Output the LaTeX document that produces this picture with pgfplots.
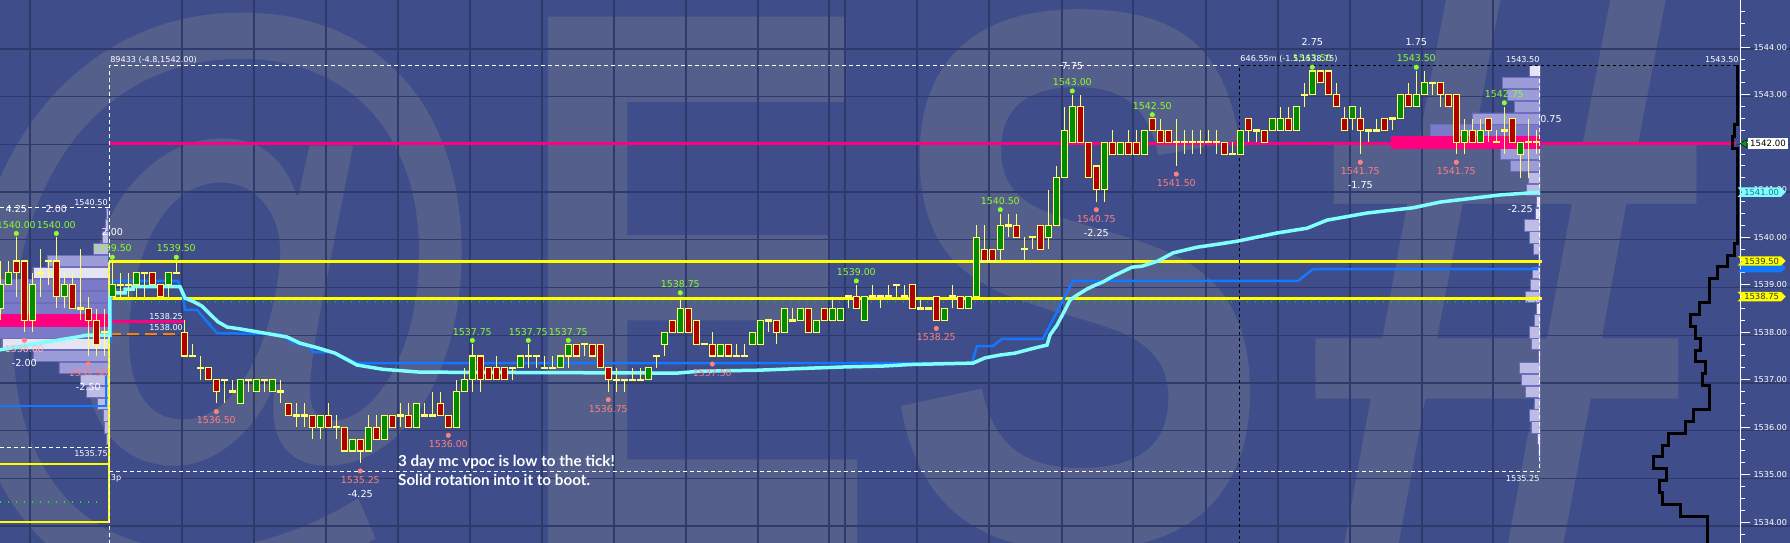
\documentclass[border=0pt]{standalone}
\usepackage{graphicx}
\usepackage{pgfplots}
\pgfplotsset{compat=1.18}
\usepackage{pgfplotstable}
\usepackage{fontspec}
\usetikzlibrary{shapes.symbols}
\newfontfamily\dvs{DejaVu Sans}
\newfontfamily\lato{Lato}
\newfontfamily\wmf{Liberation Sans}

\definecolor{bg}{RGB}{63,78,138}
\definecolor{wm}{RGB}{84,95,140}
\definecolor{gridc}{RGB}{46,58,108}
\definecolor{upc}{RGB}{0,140,0}
\definecolor{dnc}{RGB}{176,0,0}
\definecolor{wick}{RGB}{255,255,110}
\definecolor{hiy}{RGB}{255,255,0}
\definecolor{poc}{RGB}{255,0,128}
\definecolor{bline}{RGB}{20,120,255}
\definecolor{cline}{RGB}{128,255,255}
\definecolor{hilab}{RGB}{140,255,40}
\definecolor{lolab}{RGB}{255,128,128}
\definecolor{profd}{RGB}{122,122,200}
\definecolor{profm}{RGB}{156,156,216}
\definecolor{profl}{RGB}{188,188,228}
\definecolor{profw}{RGB}{228,228,242}
\definecolor{profb}{RGB}{110,110,190}
\definecolor{orng}{RGB}{255,128,0}

\pgfplotsset{
  layer/.style={scale only axis, width=1790pt, height=543pt, at={(0,0)}, anchor=south west},
  price/.style={ymin=1533.563, ymax=1544.995},
  nomk/.style={only marks, mark=none, mark size=0pt, mark options={draw=none, fill=none}},
  wickst/.style={nomk, error bars/.cd, y dir=plus, y explicit, error mark=none,
    error bar style={draw=wick, line width=1.2pt}},
  boxst/.style n args={2}{nomk, error bars/.cd, y dir=plus, y explicit, error mark=none,
    error bar style={draw=#1, line width=#2}},
  prof/.style={xbar, bar width=11.2pt, bar shift=0pt, draw=profb, line width=0.6pt, fill=#1},
}
\tikzset{
  hl/.style={text=hilab, font=\fontsize{9.4}{10}\dvs, inner sep=0pt, yshift=12.5pt},
  ll/.style={text=lolab, font=\fontsize{9.4}{10}\dvs, inner sep=0pt, yshift=-17pt},
  dh/.style={text=white, font=\fontsize{9.6}{10}\dvs, inner sep=0pt, yshift=28.5pt},
  dl/.style={text=white, font=\fontsize{9.6}{10}\dvs, inner sep=0pt, yshift=-31pt},
  sm/.style={text=white, font=\fontsize{8.1}{9}\dvs, inner sep=0pt},
}

\begin{document}

% up candles: bar n, open, high, low, close
\pgfplotstableread{
n o h l c
-14 1538.5 1539.5 1538.25 1539.0
-13 1539.0 1539.5 1539.0 1539.25
-10 1538.25 1539.25 1538.0 1539.0
-6 1538.75 1539.25 1538.5 1539.0
0 1538.75 1539.5 1538.75 1539.0
3 1539.0 1539.25 1538.75 1539.25
7 1539.0 1539.25 1538.75 1539.25
16 1536.5 1537.0 1536.5 1537.0
18 1536.75 1537.0 1536.75 1537.0
20 1536.75 1537.0 1536.75 1537.0
26 1536.0 1536.25 1535.75 1536.25
30 1535.5 1535.75 1535.5 1535.75
32 1535.5 1536.25 1535.5 1536.0
34 1535.75 1536.25 1535.75 1536.25
38 1536.0 1536.5 1536.0 1536.5
43 1536.0 1537.0 1536.0 1536.75
44 1536.75 1537.25 1536.75 1537.0
45 1537.0 1537.75 1536.75 1537.5
51 1537.25 1537.5 1537.25 1537.5
56 1537.25 1537.5 1537.25 1537.5
57 1537.5 1537.75 1537.25 1537.75
67 1537.0 1537.25 1537.0 1537.25
69 1537.75 1538.0 1537.5 1538.0
71 1538.0 1538.75 1538.0 1538.5
76 1537.5 1537.75 1537.5 1537.75
80 1537.75 1538.0 1537.75 1538.0
81 1537.75 1538.25 1537.75 1538.25
84 1538.0 1538.5 1538.0 1538.5
86 1538.25 1538.5 1538.25 1538.5
88 1538.0 1538.25 1538.0 1538.25
90 1538.25 1538.75 1538.25 1538.5
91 1538.25 1538.5 1538.25 1538.5
94 1538.25 1538.75 1538.25 1538.75
104 1538.25 1538.5 1538.25 1538.5
107 1538.5 1538.75 1538.5 1538.75
108 1538.75 1540.25 1538.75 1540.0
111 1539.75 1540.5 1539.5 1540.25
117 1540.0 1541.0 1539.75 1540.25
118 1540.25 1541.5 1540.25 1541.25
119 1541.25 1542.75 1541.25 1542.25
120 1542.0 1543.0 1542.0 1542.75
124 1541.0 1542.0 1540.75 1542.0
126 1541.75 1542.0 1541.75 1542.0
129 1541.75 1542.25 1541.75 1542.25
141 1541.75 1542.25 1541.75 1542.25
145 1542.25 1542.5 1542.25 1542.5
146 1542.25 1542.75 1542.25 1542.5
148 1542.25 1542.75 1542.25 1542.75
150 1543.0 1543.5 1543.0 1543.5
155 1542.5 1542.75 1542.25 1542.75
161 1542.5 1543.0 1542.5 1543.0
163 1542.75 1543.5 1542.75 1543.0
164 1543.0 1543.5 1543.0 1543.25
169 1542.0 1542.5 1541.75 1542.25
171 1542.0 1542.5 1542.0 1542.25
176 1541.75 1542.0 1541.25 1542.0
}\tUp

% down candles
\pgfplotstableread{
n o h l c
-12 1539.5 1540.0 1538.75 1539.25
-11 1539.5 1539.5 1538.0 1538.25
-7 1539.5 1540.0 1538.5 1538.75
-5 1539.0 1539.25 1538.5 1538.5
-3 1538.5 1538.75 1537.5 1538.25
-2 1538.25 1538.5 1537.5 1537.75
5 1539.25 1539.25 1539.0 1539.0
6 1539.0 1539.0 1538.75 1538.75
9 1538.0 1538.25 1537.5 1537.5
12 1537.25 1537.25 1537.0 1537.0
13 1537.0 1537.0 1536.5 1536.75
22 1536.5 1536.5 1536.25 1536.25
25 1536.25 1536.25 1535.75 1536.0
27 1536.25 1536.5 1536.0 1536.0
29 1536.0 1536.0 1535.5 1535.5
31 1535.75 1535.75 1535.25 1535.5
33 1536.0 1536.25 1535.75 1535.75
35 1536.25 1536.25 1536.0 1536.0
37 1536.25 1536.5 1536.0 1536.0
41 1536.5 1536.75 1536.25 1536.25
42 1536.25 1536.25 1536.0 1536.0
46 1537.5 1537.5 1536.75 1537.0
47 1537.25 1537.25 1537.0 1537.0
48 1537.25 1537.5 1537.0 1537.0
49 1537.25 1537.25 1537.0 1537.0
58 1537.75 1537.75 1537.5 1537.5
60 1537.75 1537.75 1537.5 1537.5
61 1537.75 1537.75 1537.25 1537.25
62 1537.25 1537.25 1536.75 1537.0
70 1538.25 1538.25 1538.0 1538.0
72 1538.5 1538.5 1538.0 1538.0
73 1538.25 1538.25 1537.75 1537.75
75 1537.75 1538.0 1537.5 1537.5
77 1537.75 1537.75 1537.5 1537.5
83 1538.25 1538.25 1537.75 1538.0
87 1538.5 1538.5 1538.0 1538.0
89 1538.5 1538.5 1538.25 1538.25
93 1538.75 1539.0 1538.5 1538.5
100 1539.0 1539.0 1538.5 1538.5
103 1538.75 1538.75 1538.25 1538.25
106 1538.75 1538.75 1538.5 1538.5
109 1539.75 1540.25 1539.5 1539.5
110 1539.75 1539.75 1539.5 1539.5
113 1540.25 1540.5 1540.0 1540.0
116 1540.25 1540.25 1539.75 1539.75
121 1542.75 1543.0 1542.0 1542.0
122 1542.0 1542.0 1541.25 1541.25
123 1541.5 1541.5 1540.75 1541.0
125 1542.0 1542.25 1541.75 1541.75
127 1542.0 1542.25 1541.75 1541.75
128 1542.0 1542.25 1541.75 1541.75
130 1542.5 1542.5 1542.25 1542.25
131 1542.25 1542.5 1542.0 1542.0
132 1542.25 1542.25 1542.0 1542.0
139 1542.0 1542.0 1541.75 1541.75
142 1542.5 1542.5 1542.0 1542.25
144 1542.25 1542.25 1542.0 1542.0
147 1542.5 1542.75 1542.25 1542.25
151 1543.5 1543.5 1543.25 1543.25
152 1543.5 1543.5 1543.0 1543.0
153 1543.0 1543.25 1542.75 1542.75
154 1542.5 1542.75 1542.25 1542.25
156 1542.5 1542.75 1541.75 1542.25
159 1542.5 1542.5 1542.25 1542.25
162 1543.0 1543.25 1542.75 1542.75
166 1543.25 1543.25 1542.75 1543.0
167 1543.0 1543.0 1542.75 1542.75
168 1543.0 1543.0 1541.75 1542.0
170 1542.25 1542.5 1542.0 1542.0
172 1542.5 1542.5 1542.0 1542.25
175 1542.5 1542.5 1542.0 1542.0
}\tDn

% doji bars: n, open=close, high, low
\pgfplotstableread{
n o h l
-9 1539.25 1539.75 1538.75
-8 1539.5 1539.5 1539.0
-4 1538.5 1539.75 1538.25
-1 1538.0 1538.5 1537.5
1 1539.0 1539.25 1538.75
2 1539.0 1539.25 1538.75
4 1539.25 1539.25 1538.75
8 1539.25 1539.5 1539.25
10 1537.5 1537.75 1537.5
11 1537.25 1537.5 1537.0
14 1537.0 1537.0 1536.5
15 1536.75 1537.0 1536.75
17 1537.0 1537.0 1536.75
19 1537.0 1537.0 1536.75
21 1536.75 1537.0 1536.5
23 1536.25 1536.5 1536.0
24 1536.25 1536.5 1536.0
28 1536.0 1536.25 1535.75
36 1536.25 1536.5 1536.0
39 1536.25 1536.5 1536.25
40 1536.25 1536.75 1536.25
50 1537.25 1537.25 1537.0
52 1537.5 1537.75 1537.25
53 1537.5 1537.5 1537.25
54 1537.25 1537.5 1537.25
55 1537.25 1537.5 1537.25
59 1537.75 1537.75 1537.5
63 1537.0 1537.25 1536.75
64 1537.0 1537.0 1536.75
65 1537.0 1537.25 1537.0
66 1537.0 1537.25 1537.0
68 1537.5 1537.5 1537.25
74 1537.75 1537.75 1537.75
78 1537.5 1537.75 1537.5
79 1537.5 1537.75 1537.5
82 1538.25 1538.25 1538.0
85 1538.25 1538.5 1538.25
92 1538.75 1538.75 1538.5
95 1538.75 1539.0 1538.75
96 1538.75 1538.75 1538.5
97 1538.75 1539.0 1538.75
98 1539.0 1539.0 1538.75
99 1538.75 1539.0 1538.75
101 1538.5 1538.75 1538.5
102 1538.5 1538.5 1538.5
105 1538.75 1539.0 1538.5
112 1540.25 1540.5 1540.0
114 1539.75 1540.0 1539.5
115 1540.0 1540.0 1539.75
133 1542.0 1542.5 1541.5
134 1542.0 1542.25 1541.75
135 1542.0 1542.25 1541.75
136 1542.0 1542.25 1541.75
137 1542.0 1542.25 1542.0
138 1542.0 1542.25 1541.75
140 1541.75 1542.0 1541.75
143 1542.25 1542.25 1542.0
149 1543.0 1543.25 1542.75
157 1542.25 1542.25 1542.0
158 1542.25 1542.5 1542.25
160 1542.5 1542.5 1542.25
165 1543.25 1543.25 1543.0
173 1542.0 1542.25 1542.0
174 1542.25 1542.75 1541.75
177 1542.0 1542.5 1541.25
178 1542.0 1542.25 1541.75
}\tDj

% volume profiles: price row, bar length (px)
\pgfplotstableread{
p w
1538.25 160
}\lpPoc
\pgfplotstableread{
p w
1539.25 75
1537.75 106
}\lpWhite
\pgfplotstableread{
p w
1539.0 130
1538.75 130
1538.5 140
1538.0 125
}\lpDark
\pgfplotstableread{
p w
1539.5 61
1537.5 75
1537.25 49
}\lpMid
\pgfplotstableread{
p w
1540.5 2
1540.25 3
1540.0 6
1539.75 15
1537.0 28
1536.75 22
1536.5 11
1536.25 5
1536.0 4
1535.75 2
}\lpLight

\pgfplotstableread{
p w
1542.0 149
}\rpPoc
\pgfplotstableread{
p w
1542.25 110
}\rpDark
\pgfplotstableread{
p w
1542.5 68
1541.75 40
1543.25 38
1543.0 33
1541.5 30
1542.75 26
}\rpMid
\pgfplotstableread{
p w
1537.25 21
1537.0 19
1540.25 16
1538.75 15
1536.75 15
1541.0 14
1541.25 12
1540.0 11
1538.0 11
1536.25 11
1539.0 10
1537.75 9
1536.0 9
1539.25 8
1539.75 7
1538.25 6
1536.5 6
}\rpLight
\pgfplotstableread{
p w
1543.5 11
1540.75 4
1540.5 5
1538.5 4
1539.5 2
1537.5 2
1535.75 3
1535.5 2
1535.25 1
}\rpWhite

\begin{tikzpicture}
\fill[bg] (0,0) rectangle (1790pt,543pt);
% watermark
\begin{scope}[every node/.style={inner sep=0pt, text=wm}]
\node at (216pt,238pt) {\resizebox*{560pt}{580pt}{\wmf\bfseries @}};
\node at (695pt,262pt) {\resizebox*{367pt}{528pt}{\wmf\bfseries E}};
\node at (1079pt,263pt) {\resizebox*{388pt}{540pt}{\wmf\bfseries S}};
\node at (1506pt,272pt) {\resizebox*{403pt}{560pt}{\wmf\bfseries \#}};
\end{scope}

% grid
\begin{axis}[layer, xmin=0, xmax=1790, ymin=0, ymax=543, y dir=reverse,
  xtick={30,182,254,326,398,470,542,614,686,758,829,845,917,989,1062,1133,1206,1278,1350,1422,1493},
  ytick={49,96.7,144.4,192.1,239.8,287.5,335.2,382.9,430.6,478.3,526},
  grid=major, major grid style={draw=gridc, line width=1.3pt},
  xticklabels={}, yticklabels={}, major tick length=0pt, axis line style={draw=none}]
\addplot[draw=none] coordinates {(0,0)};
\end{axis}

% previous session profile
\begin{axis}[layer, price, width=108pt, xmin=0, xmax=108, x dir=reverse, hide axis]
\addplot[prof=profd] table[x=w, y=p] {\lpDark};
\addplot[prof=profm] table[x=w, y=p] {\lpMid};
\addplot[prof=profl] table[x=w, y=p] {\lpLight};
\addplot[prof=profw] table[x=w, y=p] {\lpWhite};
\addplot[prof=poc, draw=poc] table[x=w, y=p] {\lpPoc};
\end{axis}

% current session profile
\begin{axis}[layer, price, width=1540pt, xmin=0, xmax=1540, x dir=reverse, hide axis]
\addplot[prof=profd] table[x=w, y=p] {\rpDark};
\addplot[prof=profm] table[x=w, y=p] {\rpMid};
\addplot[prof=profl] table[x=w, y=p] {\rpLight};
\addplot[prof=profw] table[x=w, y=p] {\rpWhite};
\addplot[prof=poc, draw=poc] table[x=w, y=p] {\rpPoc};
\end{axis}

% price pane
\begin{axis}[layer, price, xmin=-14.0375, xmax=209.7125, hide axis]
% levels
\addplot[hiy, line width=3pt] coordinates {(-0.41,1539.48) (178.7,1539.48)};
\addplot[hiy, line width=3pt] coordinates {(-0.41,1538.71) (178.7,1538.71)};
\addplot[green!75!black, line width=1.5pt, dash pattern=on 1.5pt off 6.5pt] coordinates {(-0.2,1538.64) (178.5,1538.64)};
\addplot[poc, line width=3pt] coordinates {(-0.41,1541.97) (203.0,1541.97)};
\addplot[poc, line width=2.5pt] coordinates {(-0.41,1538.23) (9.1,1538.23)};
\addplot[orng, line width=1.5pt, dash pattern=on 12pt off 6pt] coordinates {(-0.41,1537.96) (9.1,1537.96)};
\addplot[hiy, line width=2pt] coordinates {(-14.04,1535.23) (-0.41,1535.23)};
\addplot[hiy, line width=2pt] coordinates {(-14.04,1534.0) (-0.41,1534.0) (-0.41,1539.48)};
\addplot[green, line width=1.5pt, dash pattern=on 1.5pt off 6.5pt] coordinates {(-14.04,1534.43) (-1.6,1534.43)};
% session frame
\addplot[white, line width=1pt, dash pattern=on 4pt off 3pt] coordinates {(-0.41,1533.4) (-0.41,1543.61) (140.96,1543.61)};
\addplot[white, line width=1pt, dash pattern=on 4pt off 3pt] coordinates {(-0.41,1535.06) (178.46,1535.06) (178.46,1543.61)};
\addplot[black, line width=1pt, dash pattern=on 3pt off 3pt] coordinates {(140.96,1533.4) (140.96,1543.61) (203.2,1543.61)};
\addplot[white, line width=1pt, dash pattern=on 4pt off 3pt] coordinates {(-14.04,1540.62) (-0.41,1540.62)};
\addplot[white, line width=1pt, dash pattern=on 4pt off 3pt] coordinates {(-14.04,1535.58) (-0.41,1535.58)};
% blue line
\addplot[bline, line width=2.5pt] coordinates {(-14.04,1536.45) (-0.79,1536.45) (-0.79,1537.1)};
\addplot[bline, line width=2.5pt] coordinates {(-0.16,1537.77) (-0.16,1538.68) (0.09,1539.08) (8.21,1539.08)
  (8.84,1538.74) (9.09,1538.47) (10.59,1538.47) (13.09,1537.98) (20.96,1537.96) (22.46,1537.79)
  (24.71,1537.69) (25.09,1537.58) (27.59,1537.58) (30.59,1537.35) (107.46,1537.35) (108.09,1537.71)
  (110.09,1537.71) (111.21,1537.86) (116.34,1537.86) (120.09,1539.08) (148.21,1539.08) (150.09,1539.33)
  (178.21,1539.33)};
% cyan line
\addplot[cline, line width=3.5pt] coordinates {(-14.04,1537.63) (-4.41,1537.9) (-3.16,1537.94) (-0.29,1537.94)
  (-0.29,1538.83) (1.59,1538.83) (1.59,1538.91) (2.59,1538.91) (2.59,1538.96) (8.46,1538.96) (9.09,1538.72)
  (10.21,1538.64) (11.21,1538.55) (12.21,1538.38) (13.21,1538.22) (14.34,1538.11) (15.96,1538.07)
  (19.09,1537.98) (21.84,1537.9) (23.46,1537.77) (25.71,1537.67) (27.84,1537.56) (30.59,1537.31)
  (33.84,1537.22) (38.46,1537.16) (70.59,1537.14) (73.46,1537.18) (80.59,1537.2) (86.59,1537.24)
  (91.59,1537.27) (96.59,1537.29) (99.71,1537.32) (104.71,1537.34) (107.59,1537.35) (109.09,1537.46)
  (110.96,1537.52) (112.84,1537.56) (115.34,1537.67) (116.84,1537.73) (117.21,1537.94) (118.09,1538.15)
  (119.09,1538.47) (119.71,1538.68) (120.59,1538.78) (121.84,1538.91) (122.84,1538.99) (123.84,1539.06)
  (125.09,1539.18) (127.46,1539.37) (128.71,1539.39) (130.71,1539.5) (132.59,1539.67) (135.59,1539.79)
  (138.46,1539.86) (140.71,1539.92) (145.59,1540.09) (149.34,1540.19) (151.84,1540.36) (156.84,1540.51)
  (162.59,1540.62) (165.96,1540.74) (173.46,1540.89) (178.46,1540.95)};
% candles: wicks, then bodies
\addplot[wickst] table[x=n, y=l, y error plus expr=\thisrow{h}-\thisrow{l}] {\tUp};
\addplot[wickst] table[x=n, y=l, y error plus expr=\thisrow{h}-\thisrow{l}] {\tDn};
\addplot[wickst] table[x=n, y=l, y error plus expr=\thisrow{h}-\thisrow{l}] {\tDj};
\addplot[boxst={wick}{7pt}] table[x=n, y expr=\thisrow{o}-0.012, y error plus expr=\thisrow{c}-\thisrow{o}+0.024] {\tUp};
\addplot[boxst={upc}{5pt}] table[x=n, y expr=\thisrow{o}+0.012, y error plus expr=\thisrow{c}-\thisrow{o}-0.024] {\tUp};
\addplot[boxst={wick}{7pt}] table[x=n, y expr=\thisrow{c}-0.012, y error plus expr=\thisrow{o}-\thisrow{c}+0.024] {\tDn};
\addplot[boxst={dnc}{5pt}] table[x=n, y expr=\thisrow{c}+0.012, y error plus expr=\thisrow{o}-\thisrow{c}-0.024] {\tDn};
\addplot[boxst={wick}{7pt}] table[x=n, y expr=\thisrow{o}-0.025, y error plus expr=0.05] {\tDj};
% swing high and low dots
\addplot[only marks, mark=*, mark size=2.3pt, color=hilab] coordinates {(-12,1540.08) (-7,1540.08) (0,1539.58)
  (8,1539.58) (45,1537.83) (52,1537.83) (57,1537.83) (71,1538.83) (93,1539.08) (111,1540.58) (120,1543.08)
  (130,1542.58) (150,1543.58) (163,1543.58) (174,1542.83)};
\addplot[only marks, mark=*, mark size=2.3pt, color=lolab] coordinates {(-11,1537.83) (-3,1537.33) (13,1536.33)
  (31,1535.08) (42,1535.83) (62,1536.58) (75,1537.33) (103,1538.08) (123,1540.58) (133,1541.33)
  (156,1541.58) (168,1541.58)};
% swing labels
\node[hl] at (axis cs:-12,1540.0) {1540.00};
\node[hl] at (axis cs:-7,1540.0) {1540.00};
\node[hl] at (axis cs:0,1539.5) {1539.50};
\node[hl] at (axis cs:8,1539.5) {1539.50};
\node[hl] at (axis cs:45,1537.75) {1537.75};
\node[hl] at (axis cs:52,1537.75) {1537.75};
\node[hl] at (axis cs:57,1537.75) {1537.75};
\node[hl] at (axis cs:71,1538.75) {1538.75};
\node[hl] at (axis cs:93,1539.0) {1539.00};
\node[hl] at (axis cs:111,1540.5) {1540.50};
\node[hl] at (axis cs:120,1543.0) {1543.00};
\node[hl] at (axis cs:130,1542.5) {1542.50};
\node[hl] at (axis cs:150,1543.5) {1543.50};
\node[hl] at (axis cs:163,1543.5) {1543.50};
\node[hl] at (axis cs:174,1542.75) {1542.75};
\node[dh] at (axis cs:-12,1540.0) {4.25};
\node[dh] at (axis cs:-7,1540.0) {2.00};
\node[dh] at (axis cs:0,1539.5) {2.00};
\node[dh] at (axis cs:120,1543.0) {7.75};
\node[dh] at (axis cs:150,1543.5) {2.75};
\node[dh] at (axis cs:163,1543.5) {1.75};
\node[ll, text=lolab!60!white] at (axis cs:-11,1538.0) {1538.00};
\node[ll] at (axis cs:-3,1537.5) {1537.50};
\node[ll] at (axis cs:13,1536.5) {1536.50};
\node[ll] at (axis cs:31,1535.25) {1535.25};
\node[ll] at (axis cs:42,1536.0) {1536.00};
\node[ll] at (axis cs:62,1536.75) {1536.75};
\node[ll] at (axis cs:75,1537.5) {1537.50};
\node[ll] at (axis cs:103,1538.25) {1538.25};
\node[ll] at (axis cs:123,1540.75) {1540.75};
\node[ll] at (axis cs:133,1541.5) {1541.50};
\node[ll] at (axis cs:156,1541.75) {1541.75};
\node[ll] at (axis cs:168,1541.75) {1541.75};
\node[dl] at (axis cs:-11,1538.0) {-2.00};
\node[dl] at (axis cs:-3,1537.5) {-2.50};
\node[dl] at (axis cs:31,1535.25) {-4.25};
\node[dl] at (axis cs:123,1540.75) {-2.25};
\node[dl] at (axis cs:156,1541.75) {-1.75};
\node[dl] at (axis cs:176,1541.25) {-2.25};
\node[text=white, font=\fontsize{9.6}{10}\dvs, inner sep=0pt] at (axis cs:179.84,1542.49) {0.75};
% level and range labels
\node[sm, anchor=west] at (axis cs:-0.27,1543.73) {89433 (-4.8,1542.00)};
\node[sm, anchor=west] at (axis cs:141,1543.75) {646.55m (-1.5,1538.75)};
\node[sm] at (axis cs:176.3,1543.75) {1543.50};
\node[sm] at (axis cs:201.2,1543.74) {1543.50};
\node[sm] at (axis cs:176.3,1534.93) {1535.25};
\node[sm, anchor=west] at (axis cs:-0.2,1534.93) {3p};
\node[sm, anchor=east] at (axis cs:8.84,1538.33) {1538.25};
\node[sm, anchor=east] at (axis cs:8.84,1538.09) {1538.00};
\node[sm, anchor=east] at (axis cs:-0.54,1540.72) {1540.50};
\node[sm, anchor=east] at (axis cs:-0.54,1535.44) {1535.75};
% annotation
\node[anchor=base west, text=white, font=\fontsize{15.2}{16}\lato\bfseries, inner sep=0pt] at (axis cs:35.71,1535.18) {3 day mc vpoc is low to the tick!};
\node[anchor=base west, text=white, font=\fontsize{15.2}{16}\lato\bfseries, inner sep=0pt] at (axis cs:35.71,1534.78) {Solid rotation into it to boot.};
\end{axis}

% price scale and TPO outline
\begin{axis}[scale only axis, width=1740pt, height=543pt, at={(0,0)}, anchor=south west, price,
  xmin=0, xmax=1740, x dir=reverse, clip=false,
  axis x line=none, axis y line=right, y axis line style={white, line width=1pt, -},
  ytick distance=1, minor y tick num=3, tick align=outside,
  major tick length=10pt, minor tick length=5pt, tick style={white, line width=1pt},
  yticklabel style={font=\fontsize{8.1}{9}\dvs, text=white, /pgf/number format/.cd, fixed, fixed zerofill,
    precision=2, 1000 sep={}, assume math mode=true}]
\addplot[black, line width=3pt] coordinates {(3,1543.625) (3,1542.375) (6,1542.375) (6,1542.125) (8,1542.125)
  (8,1541.875) (3,1541.875) (3,1539.875) (6,1539.875) (6,1539.625) (13,1539.625) (13,1539.375) (23,1539.375)
  (23,1539.125) (31,1539.125) (31,1538.625) (41,1538.625) (41,1538.375) (50,1538.375) (50,1538.125)
  (45,1538.125) (45,1537.875) (40,1537.875) (40,1537.625) (45,1537.625) (45,1537.375) (35,1537.375)
  (35,1537.125) (38,1537.125) (38,1536.875) (31,1536.875) (31,1536.375) (47,1536.375) (47,1536.125)
  (55,1536.125) (55,1535.875) (72,1535.875) (72,1535.625) (78,1535.625) (78,1535.375) (87,1535.375)
  (87,1535.125) (74,1535.125) (74,1534.875) (81,1534.875) (81,1534.625) (78,1534.625) (78,1534.375)
  (60,1534.375) (60,1534.125) (33,1534.125) (33,1533.4)};
\node[signal, signal from=west, fill=bline, text=bline, font=\fontsize{8.4}{9}\dvs, inner xsep=2pt, inner ysep=1.5pt, anchor=west] at (axis cs:-2,1539.36) {1539.50};
\node[signal, signal from=west, fill=hiy, text=black!80, font=\fontsize{8.4}{9}\dvs, inner xsep=2pt, inner ysep=1.5pt, anchor=west] at (axis cs:-2,1539.5) {1539.50};
\node[signal, signal from=west, fill=hiy, text=black!80, font=\fontsize{8.4}{9}\dvs, inner xsep=2pt, inner ysep=1.5pt, anchor=west] at (axis cs:-2,1538.75) {1538.75};
\node[signal, signal from=west, fill=cline, text={rgb,255:red,40;green,110;blue,150}, font=\fontsize{8.4}{9}\dvs, inner xsep=2pt, inner ysep=1.5pt, anchor=west] at (axis cs:-2,1540.95) {1541.00};
\node[rectangle, fill=white, text=black, font=\fontsize{8.6}{9}\dvs, inner xsep=2pt, inner ysep=2pt, anchor=west] at (axis cs:-8,1541.97) {1542.00};
\addplot[only marks, mark=triangle*, mark size=4.5pt, mark options={rotate=90, fill={rgb,255:red,0;green,160;blue,0}, draw=none}] coordinates {(-4.5,1541.97)};
\end{axis}

\pgfresetboundingbox
\path[use as bounding box] (0,0) rectangle (1790pt,543pt);
\end{tikzpicture}
\end{document}
